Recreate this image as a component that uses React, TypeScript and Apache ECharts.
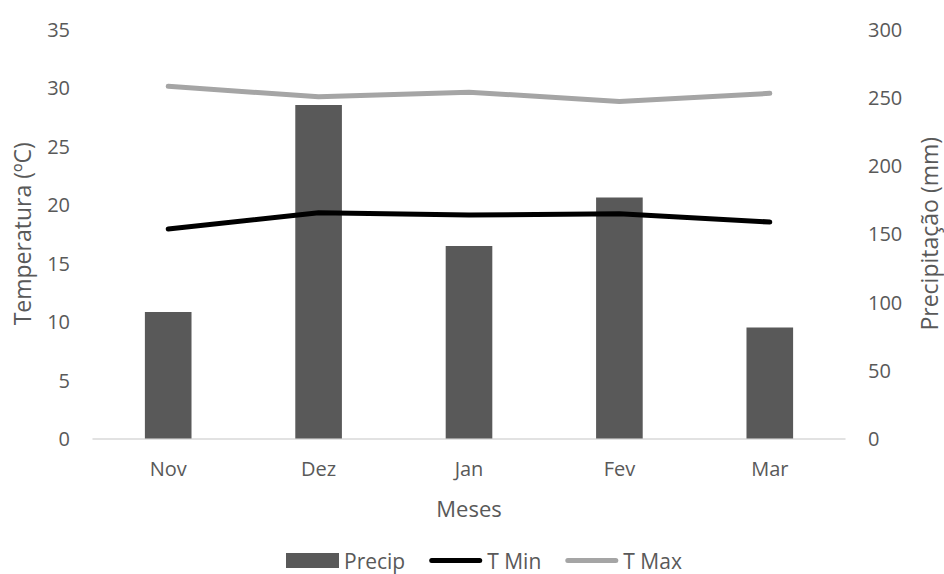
import React, { useEffect, useRef } from "react";
import * as echarts from "echarts";

// Months on the category axis
const months = ["Nov", "Dez", "Jan", "Fev", "Mar"];
// Monthly rainfall (mm), right axis
const precip = [92.6, 244.3, 141.0, 176.5, 81.4];
// Monthly minimum temperature (ºC), left axis
const tMin = [17.9, 19.3, 19.1, 19.2, 18.5];
// Monthly maximum temperature (ºC), left axis
const tMax = [30.1, 29.2, 29.6, 28.8, 29.5];

const FONT = "'Open Sans', 'Liberation Sans', sans-serif";
const TEXT = "#595959";
// Thick rounded stroke used as the legend swatch of the line series
const LINE_ICON = "path://M2.5,0H50.5A2.5,2.5 0 0 1 50.5,5H2.5A2.5,2.5 0 0 1 2.5,0Z";

export default function App() {
  const ref = useRef<HTMLDivElement>(null);

  useEffect(() => {
    document.body.style.margin = "0";
    document.body.style.overflow = "hidden";
    if (!ref.current) return;
    const chart = echarts.init(ref.current, undefined, { renderer: "svg" });
    chart.setOption({
      animation: false,
      backgroundColor: "#ffffff",
      textStyle: { fontFamily: FONT, color: TEXT },
      grid: {
        left: 93,
        right: 99,
        top: 29,
        bottom: 135.5,
        containLabel: false,
        outerBoundsMode: "none",
      },
      legend: {
        left: 286,
        top: 550,
        padding: 0,
        itemWidth: 53,
        itemHeight: 15,
        itemGap: 24,
        textStyle: { fontFamily: FONT, fontSize: 21, lineHeight: 20, color: TEXT },
        data: [
          { name: "Precip", icon: "rect" },
          { name: "T Min", icon: LINE_ICON },
          { name: "T Max", icon: LINE_ICON },
        ],
      },
      xAxis: {
        type: "category",
        data: months,
        name: "Meses",
        nameLocation: "middle",
        nameGap: 58,
        nameTextStyle: { fontFamily: FONT, fontSize: 22, color: TEXT },
        axisLine: { show: true, lineStyle: { color: "#d9d9d9", width: 1.5 } },
        axisTick: { show: false },
        axisLabel: { fontFamily: FONT, fontSize: 20, color: TEXT, margin: 20 },
        splitLine: { show: false },
      },
      yAxis: [
        {
          type: "value",
          min: 0,
          max: 35,
          interval: 5,
          name: "Temperatura (ºC)",
          nameLocation: "middle",
          nameGap: 60,
          nameTextStyle: { fontFamily: FONT, fontSize: 23, color: TEXT },
          axisLine: { show: false },
          axisTick: { show: false },
          axisLabel: { fontFamily: FONT, fontSize: 20, color: TEXT, margin: 23 },
          splitLine: { show: false },
        },
        {
          type: "value",
          min: 0,
          max: 300,
          interval: 50,
          position: "right",
          name: "Precipitação (mm)",
          nameLocation: "middle",
          nameGap: 72,
          nameRotate: 90,
          nameTextStyle: { fontFamily: FONT, fontSize: 23, color: TEXT },
          axisLine: { show: false },
          axisTick: { show: false },
          axisLabel: { fontFamily: FONT, fontSize: 20, color: TEXT, margin: 23 },
          splitLine: { show: false },
        },
      ],
      series: [
        {
          name: "Precip",
          type: "bar",
          yAxisIndex: 1,
          data: precip,
          barWidth: "31%",
          itemStyle: { color: "#595959" },
          z: 1,
        },
        {
          name: "T Min",
          type: "line",
          yAxisIndex: 0,
          data: tMin,
          symbol: "none",
          showSymbol: false,
          itemStyle: { color: "#000000" },
          lineStyle: { color: "#000000", width: 5, cap: "round", join: "round" },
          z: 3,
        },
        {
          name: "T Max",
          type: "line",
          yAxisIndex: 0,
          data: tMax,
          symbol: "none",
          showSymbol: false,
          itemStyle: { color: "#a5a5a5" },
          lineStyle: { color: "#a5a5a5", width: 5, cap: "round", join: "round" },
          z: 3,
        },
      ],
    });
    return () => chart.dispose();
  }, []);

  return (
    <div
      ref={ref}
      style={{ width: 944, height: 574, position: "fixed", left: 0, top: 0 }}
    />
  );
}
